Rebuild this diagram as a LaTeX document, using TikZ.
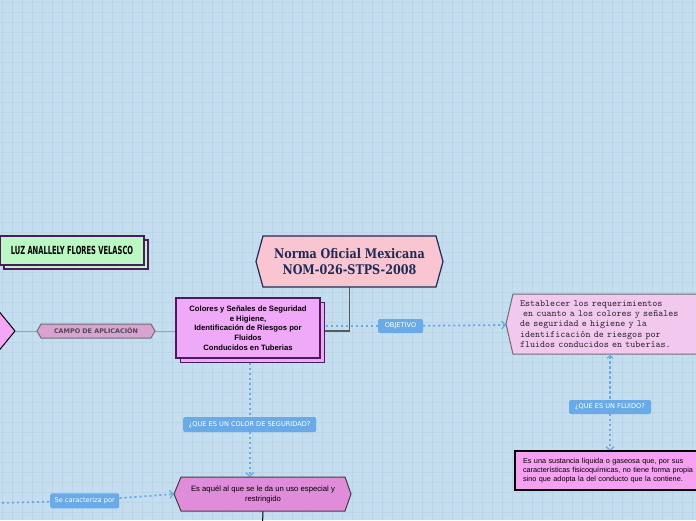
\documentclass[tikz,border=0pt]{standalone}
\usepackage{fontspec}
\usetikzlibrary{arrows.meta,calc}
\newfontfamily\lblfont{DejaVu Sans}
\newfontfamily\boxfont{Liberation Sans}
\newfontfamily\ttlfont[FakeStretch=0.84]{DejaVu Serif}
\newfontfamily\luzfont[FakeStretch=0.6]{DejaVu Sans}
\definecolor{bgc}{HTML}{C4DEF0}
\definecolor{gridc}{HTML}{BAD4E8}
\definecolor{luzfill}{HTML}{BCF8C4}
\definecolor{purpb}{HTML}{4E1A5E}
\definecolor{titfill}{HTML}{F9C5D1}
\definecolor{titb}{HTML}{1E2B58}
\definecolor{mainfill}{HTML}{F0A9F8}
\definecolor{campofill}{HTML}{D8A3D3}
\definecolor{greyb}{HTML}{6E6E6E}
\definecolor{blu}{HTML}{6AAAE6}
\definecolor{objfill}{HTML}{F2C8EF}
\definecolor{fluidfill}{HTML}{F5A0F1}
\definecolor{lowfill}{HTML}{E08CDB}
\definecolor{leftfill}{HTML}{F5A6F4}
\definecolor{conn}{HTML}{8FA6B4}
\pgfdeclarelayer{grid}
\pgfdeclarelayer{lines}
\pgfdeclarelayer{shapes}
\pgfsetlayers{grid,lines,shapes,main}
\tikzset{
  holder/.style={inner sep=0pt, outer sep=0pt, align=center},
  lbl/.style={fill=blu, rounded corners=2pt, text=white, inner sep=0pt, font=\lblfont\fontsize{6.6}{7.5}\selectfont},
  dotline/.style={blu, line width=1.8pt, dash pattern=on 2.2pt off 2.8pt},
  tip/.style={-{Straight Barb[length=3.5pt,width=8pt,line width=1.3pt]}},
  connline/.style={conn, line width=1pt},
}
\begin{document}
\begin{tikzpicture}[x=1pt,y=-1pt]
\useasboundingbox (0,0) rectangle (696,520);
\begin{pgfonlayer}{grid}
\fill[bgc] (0,0) rectangle (696,520);
\foreach \i in {2,12,...,692} \draw[gridc, line width=0.5pt] (\i,0) -- (\i,520);
\foreach \j in {2,12,...,512} \draw[gridc, line width=0.5pt] (0,\j) -- (696,\j);
\end{pgfonlayer}

% nodes
\node[holder, minimum width=144pt, minimum height=29pt, font=\luzfont\bfseries\fontsize{11.2}{13}\selectfont] (luz) at (72,250.5)
  {LUZ ANALLELY FLORES VELASCO};
\node[holder, minimum width=173pt, minimum height=51pt, text=titb, font=\ttlfont\bfseries\fontsize{13.3}{16}\selectfont] (title) at (349.5,261.5)
  {Norma Oficial Mexicana\\NOM-026-STPS-2008};
\node[holder, minimum width=144pt, minimum height=60pt, font=\boxfont\bfseries\fontsize{7.7}{9.7}\selectfont] (main) at (248,328)
  {Colores y Señales de Seguridad\\e Higiene,\\Identificación de Riesgos por\\Fluidos\\Conducidos en Tuberias};
\node[holder, minimum width=110pt, minimum height=14pt, text=black!70, font=\lblfont\bfseries\fontsize{6.4}{7}\selectfont] (campo) at (96,331)
  {CAMPO DE APLICACIÓN};
\node[inner sep=0pt, outer sep=0pt] (leftn) at (15,331) {};
\node[holder, minimum height=60pt, text width=233pt, inner xsep=7pt, align=left, text=black!85, font=\ttfamily\fontsize{9.6}{10.2}\selectfont] (objhex) at (636.5,324)
  {Establecer los requerimientos\\\ en cuanto a los colores y señales\\de seguridad e higiene y la\\identificación de riesgos por\\fluidos conducidos en tuberías.};
\node[holder, minimum height=39pt, text width=229pt, inner xsep=8pt, align=left, font=\boxfont\fontsize{7.3}{8.6}\selectfont] (fluid) at (637.5,470.5)
  {Es una sustancia líquida o gaseosa que, por sus\\características fisicoquímicas, no tiene forma propia\\sino que adopta la del conducto que la contiene.};
\node[holder, minimum width=164pt, minimum height=34pt, font=\boxfont\fontsize{7.7}{10}\selectfont] (low) at (263,494)
  {Es aquél al que se le da un uso especial y\\restringido};
\node[lbl, minimum width=45pt, minimum height=14pt] (obj) at (400.5,326) {OBJETIVO};
\node[lbl, minimum width=82pt, minimum height=14pt] (fq) at (610,407) {¿QUE ES UN FLUIDO?};
\node[lbl, minimum width=133pt, minimum height=15pt] (colq) at (249.7,424.5) {¿QUE ES UN COLOR DE SEGURIDAD?};
\node[lbl, minimum width=69pt, minimum height=15pt] (sec) at (84.7,500.8) {Se caracteriza por};
\coordinate (sestart) at (-3,503);
\coordinate (lowend) at (262.5,525);

% shapes
\begin{pgfonlayer}{shapes}
\draw[purpb, line width=1.6pt, fill=luzfill] ([shift={(4pt,-4pt)}]luz.north west) rectangle ([shift={(4pt,-4pt)}]luz.south east);
\draw[purpb, line width=1.6pt, fill=luzfill] (luz.north west) rectangle (luz.south east);
\draw[titb, line width=1.2pt, fill=titfill] (title.north west) -- (title.north east) -- ([xshift=7pt]title.east) -- (title.south east) -- (title.south west) -- ([xshift=-7pt]title.west) -- cycle;
\draw[purpb, line width=1.6pt, fill=mainfill] ([shift={(4.5pt,-4.5pt)}]main.north west) rectangle ([shift={(4.5pt,-4.5pt)}]main.south east);
\draw[purpb, line width=1.6pt, fill=mainfill] (main.north west) rectangle (main.south east);
\draw[greyb, line width=1pt, fill=campofill] (campo.north west) -- (campo.north east) -- ([xshift=4pt]campo.east) -- (campo.south east) -- (campo.south west) -- ([xshift=-4pt]campo.west) -- cycle;
\draw[black, line width=1pt, fill=leftfill] (-3,309) -- (leftn.center) -- (-3,353) -- cycle;
\draw[greyb, line width=1pt, fill=objfill] (objhex.north west) -- (objhex.north east) -- (objhex.south east) -- (objhex.south west) -- ([xshift=-7pt]objhex.west) -- cycle;
\draw[black, line width=1.1pt, fill=fluidfill] (fluid.north west) rectangle (fluid.south east);
\draw[black!75, line width=1pt, fill=lowfill] (low.north west) -- (low.north east) -- ([xshift=6pt]low.east) -- (low.south east) -- (low.south west) -- ([xshift=-7pt]low.west) -- cycle;
\end{pgfonlayer}

% connectors
\begin{pgfonlayer}{lines}
\draw[connline] (leftn) -- ([xshift=-4pt]campo.west);
\draw[connline] ([xshift=4pt]campo.east) -- (main.west |- campo.east);
\draw[black!65, line width=1.4pt] (title.south) |- ([xshift=4.5pt]main.east |- campo.east);
\draw[dotline] ([xshift=6pt]main.east |- obj) -- (obj);
\draw[dotline, tip] (obj) -- ([xshift=-7pt,yshift=-1pt]objhex.west);
\draw[dotline, {Straight Barb[length=2.5pt,width=6pt,line width=1.2pt]}-] ([yshift=-1pt]objhex.south -| fq) -- (fq);
\draw[dotline, tip] (fq) -- (fluid.north -| fq);
\draw[dotline] ([yshift=-5pt]main.south -| colq) -- (colq);
\draw[dotline, tip] (colq) -- (low.north -| colq);
\draw[dotline] (sestart) -- (sec);
\draw[dotline, tip] (sec) -- ([xshift=-7pt]low.west);
\draw[black, line width=1pt] (low.south) -- (lowend);
\end{pgfonlayer}
\end{tikzpicture}
\end{document}
